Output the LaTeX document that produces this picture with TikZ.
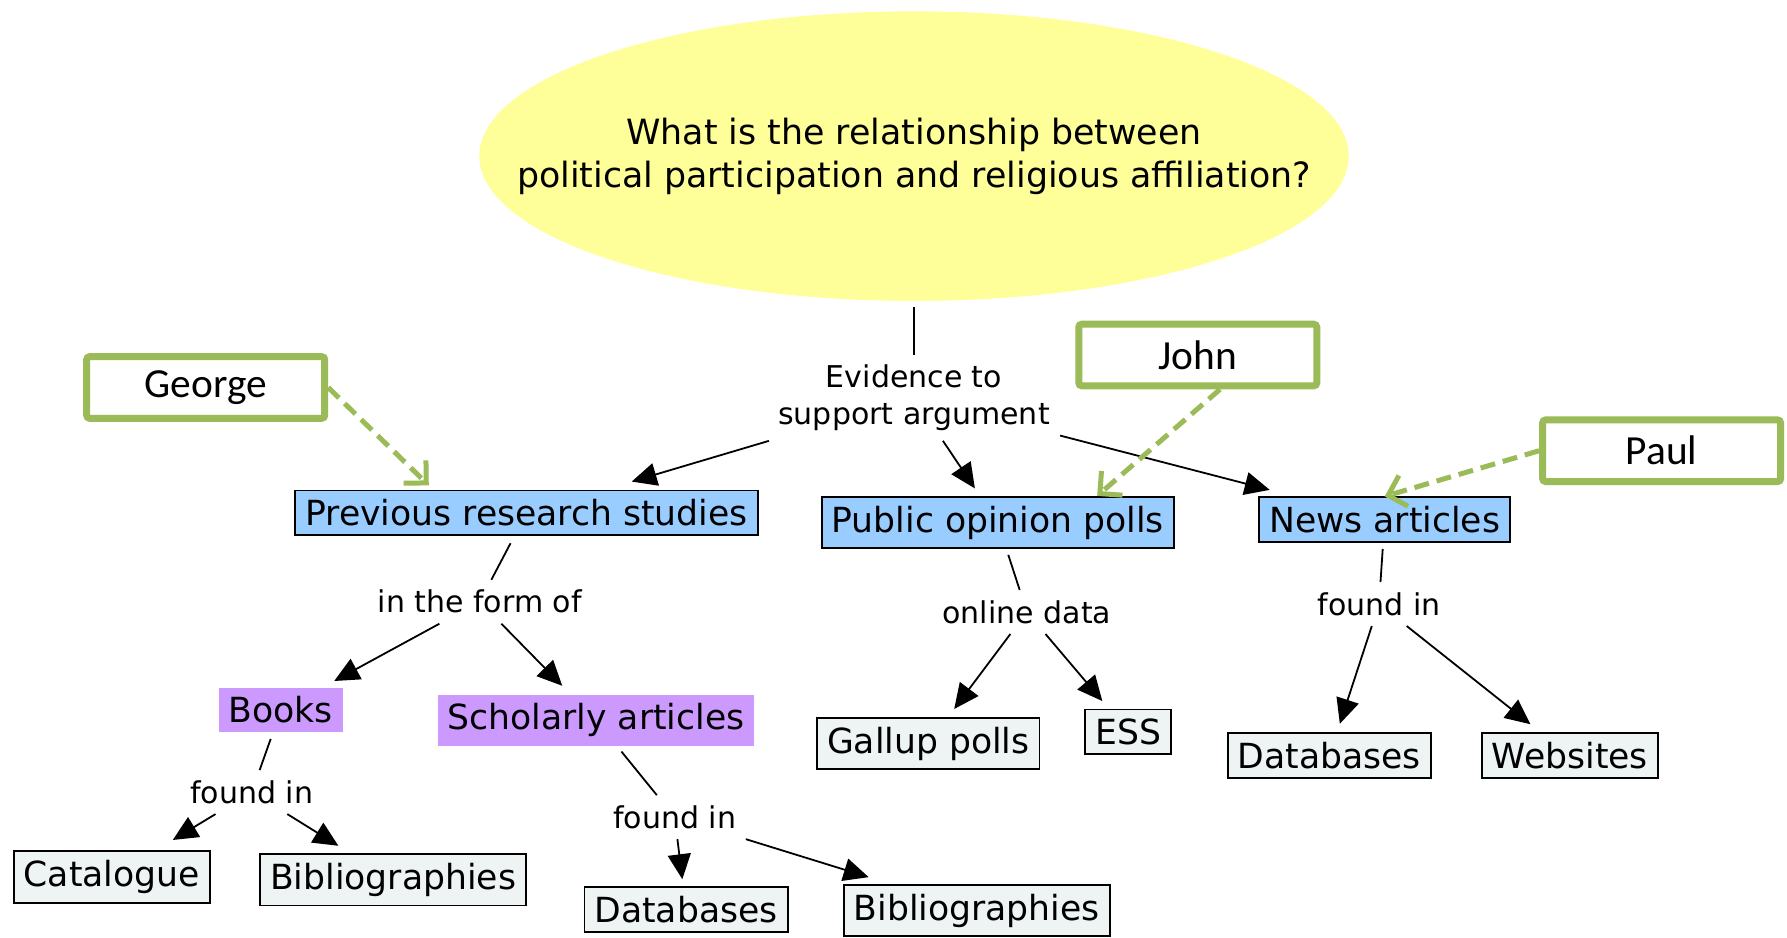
\documentclass[tikz,border=0pt]{standalone}
\usepackage{fontspec}
\setmainfont{DejaVu Sans}
\newfontfamily\namefont{Carlito}
\usetikzlibrary{shapes.geometric, arrows.meta}
\definecolor{qyellow}{HTML}{FFFF99}
\definecolor{cblue}{HTML}{99CCFF}
\definecolor{cpurple}{HTML}{CC99FF}
\definecolor{cgray}{HTML}{EEF3F4}
\definecolor{ngreen}{HTML}{9BBB59}
\tikzset{
    ->, % every connector is directed, plain lines say -
    >={Triangle[length=12.5pt, width=11.5pt]}, % filled heads as in the map
    x=0.5699pt, y=-0.5699pt, % one unit is one pixel of the screenshot, y runs down
    question/.style={ellipse, fill=qyellow, inner xsep=-60pt, inner ysep=0pt, minimum width=434.8pt, minimum height=144.8pt, align=center, font=\fontsize{17.4}{21.7}\selectfont}, % the focus question, text may run wide
    concept/.style={draw, line width=0.9pt, fill=cblue, inner xsep=5pt, inner ysep=4.5pt, font=\fontsize{17.3}{20}\selectfont}, % kinds of evidence
    formbox/.style={concept, draw=none, fill=cpurple}, % forms of a study
    sourcebox/.style={concept, fill=cgray}, % where to look
    phrase/.style={inner sep=5pt, align=center, font=\fontsize{15}{18.2}\selectfont}, % linking words
    reader/.style={draw=ngreen, line width=3.5pt, fill=white, rounded corners=1.5pt, minimum width=119pt, minimum height=30.8pt, font=\namefont\fontsize{20.7}{24}\selectfont}, % who takes which part
    remark/.style={draw=ngreen, line width=2.5pt, dash pattern=on 7.5pt off 4pt, -{Straight Barb[length=8pt, width=16pt]}},
}

\begin{document}
\begin{tikzpicture}
\useasboundingbox (0,0) rectangle (1568,822.2);
\node[question]  (q)      at (802,137)    {What is the relationship between\\political participation and religious affiliation?};
\node[phrase]    (ev)     at (802,349)    {Evidence to\\support argument};
\node[concept]   (prs)    at (462,450)    {Previous research studies};
\node[concept]   (pop)    at (875.5,458.5) {Public opinion polls};
\node[concept]   (news)   at (1215,456)   {News articles};
\node[phrase]    (form)   at (421,528)    {in the form of};
\node[formbox]   (books)  at (246.5,623)  {Books};
\node[formbox]   (schol)  at (523,632)    {Scholarly articles};
\node[phrase]    (fb)     at (221,695)    {found in};
\node[sourcebox] (cat)    at (98,769.5)   {Catalogue};
\node[sourcebox] (bib1)   at (345,772)    {Bibliographies};
\node[phrase]    (fs)     at (592,717)    {found in};
\node[sourcebox] (db1)    at (602,798)    {Databases};
\node[sourcebox] (bib2)   at (857,799)    {Bibliographies};
\node[phrase]    (od)     at (901,537)    {online data};
\node[sourcebox] (gal)    at (814.5,652.5) {Gallup polls};
\node[sourcebox] (ess)    at (990,642)    {ESS};
\node[phrase]    (fn)     at (1210,530)   {found in};
\node[sourcebox] (db2)    at (1166.5,663) {Databases};
\node[sourcebox] (web)    at (1377.5,663) {Websites};
\node[reader]    (george) at (180.5,340)  {George};
\node[reader]    (john)   at (1051,311.5) {John};
\node[reader]    (paul)   at (1458,395.5) {Paul};
\draw[line width=0.9pt]
(q)     edge[-, shorten <=3pt]  (ev)
(ev)    edge[shorten >=14pt]    (prs)
(ev)    edge[shorten >=4.5pt]   (pop)
(ev)    edge[shorten >=13pt]    (news)
(prs)   edge[-, shorten <=4pt]  (form)
(form)  edge[shorten >=6pt]     (books)
(form)  edge[shorten >=5.5pt]   (schol)
(books) edge[-, shorten <=3pt]  (fb)
(fb)    edge[shorten >=10pt]    (cat)
(fb)    edge[shorten >=7pt]     (bib1)
(schol) edge[-, shorten <=3pt]  (fs)
(fs)    edge[shorten >=3.5pt]   (db1)
(fs)    edge[shorten >=11.5pt]  (bib2)
(pop)   edge[-, shorten <=3pt]  (od)
(od)    edge[shorten >=5pt]     (gal)
(od)    edge[shorten >=5pt]     (ess)
(news)  edge[-, shorten <=3pt]  (fn)
(fn)    edge[shorten >=4.5pt]   (db2)
(fn)    edge[shorten >=6.5pt]   (web);
\draw[remark, shorten >=3pt] (george.east) -- (prs.166);
\draw[remark] (john.-57) -- (pop.15);
\draw[remark] (paul.west) -- (news.north);
\end{tikzpicture}
\end{document}
